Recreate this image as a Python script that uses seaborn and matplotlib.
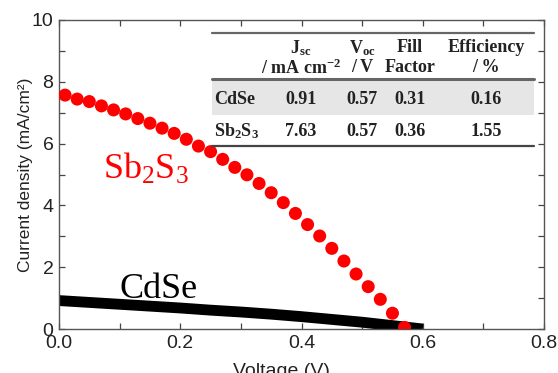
import matplotlib
matplotlib.use("Agg")
import matplotlib.pyplot as plt
import seaborn as sns
from matplotlib.lines import Line2D
from matplotlib.patches import Rectangle
from matplotlib.ticker import MultipleLocator

# ---- data ----
sb_voltage = [0.01, 0.03, 0.05, 0.07, 0.09, 0.11, 0.13, 0.15, 0.17, 0.19,
              0.21, 0.23, 0.25, 0.27, 0.29, 0.31, 0.33, 0.35, 0.37, 0.39,
              0.41, 0.43, 0.45, 0.47, 0.49, 0.51, 0.53, 0.55, 0.57]
sb_current = [7.57, 7.44, 7.36, 7.22, 7.09, 6.96, 6.81, 6.66, 6.50, 6.33,
              6.14, 5.92, 5.74, 5.49, 5.23, 4.99, 4.71, 4.41, 4.09, 3.74,
              3.38, 3.01, 2.61, 2.20, 1.78, 1.37, 0.96, 0.51, 0.05]

cdse_voltage = [0.0, 0.05, 0.10, 0.15, 0.20, 0.25, 0.30, 0.35, 0.40, 0.45, 0.50, 0.55, 0.60]
cdse_current = [0.92, 0.86, 0.80, 0.74, 0.68, 0.61, 0.55, 0.48, 0.40, 0.31, 0.22, 0.11, 0.0]

header_top = [r"J$_{\mathbf{sc}}$", r"V$_{\mathbf{oc}}$", "Fill", "Efficiency"]
header_bottom = [r"/ mA cm$^{\mathbf{-2}}$", "/ V", "Factor", "/ %"]
row_names = ["CdSe", r"Sb$_{\mathbf{2}}$S$_{\mathbf{3}}$"]
jsc_vals = ["0.91", "7.63"]
voc_vals = ["0.57", "0.57"]
ff_vals = ["0.31", "0.36"]
eff_vals = ["0.16", "1.55"]

# ---- style ----
sns.set_theme(style="ticks")
plt.rcParams["font.family"] = ["Liberation Sans", "DejaVu Sans"]
plt.rcParams["mathtext.fontset"] = "custom"
plt.rcParams["mathtext.rm"] = "Liberation Serif"
plt.rcParams["mathtext.it"] = "Liberation Serif:italic"
plt.rcParams["mathtext.bf"] = "Liberation Serif:bold"

W, H = 558, 373
fig = plt.figure(figsize=(W / 100, H / 100), dpi=100)
L, R, T, B = 59, 544, 20, 329
ax = fig.add_axes([L / W, 1 - B / H, (R - L) / W, (B - T) / H])

sns.lineplot(x=cdse_voltage, y=cdse_current, ax=ax, color="black",
             linewidth=7.8, solid_capstyle="butt", zorder=2)
sns.scatterplot(x=sb_voltage, y=sb_current, ax=ax, color="#ff0000",
                s=88, edgecolor="none", linewidth=0, zorder=3)

ax.set_xlim(0, 0.8)
ax.set_ylim(0, 10)
ax.xaxis.set_major_locator(MultipleLocator(0.2))
ax.xaxis.set_minor_locator(MultipleLocator(0.1))
ax.yaxis.set_major_locator(MultipleLocator(2))
ax.yaxis.set_minor_locator(MultipleLocator(1))
ax.tick_params(which="both", direction="in", top=True, right=True,
               length=4, width=0.9, color="#444444")
ax.tick_params(which="major", labelsize=14, labelcolor="#222222", pad=4)
for s in ax.spines.values():
    s.set_color("#555555")
    s.set_linewidth(1.0)

ax.set_xlabel("Voltage (V)", fontsize=14, color="#222222")
ax.xaxis.set_label_coords((281 - L) / (R - L), (B - 363) / (B - T))
ax.set_ylabel("Current density (mA/cm²)", fontsize=12.5, color="#222222")
ax.yaxis.set_label_coords((33 - L) / (R - L), 0.5)

ax.text(0.10, 1.0, "CdSe", fontsize=26, family="Liberation Serif",
        color="black", va="baseline")
ax.text(0.072, 4.85, r"Sb$_2$S$_3$", fontsize=26, family="Liberation Serif",
        color="#ff0000", va="baseline")

# ---- table ----
def fx(px):
    return px / W

def fy(py):
    return 1 - py / H

fig.add_artist(Rectangle((fx(212), fy(115)), fx(534) - fx(212), fy(80) - fy(115),
                         transform=fig.transFigure, facecolor="#e6e6e6",
                         edgecolor="none", zorder=1))
for yy, lw, c in [(32.7, 1.6, "#666666"), (79, 2.2, "#666666"), (146, 1.6, "#444444")]:
    fig.add_artist(Line2D([fx(212), fx(534)], [fy(yy), fy(yy)],
                          transform=fig.transFigure, color=c, linewidth=lw, zorder=2))

col_x = [301, 362, 410, 486]
tfont = dict(family="Liberation Serif", fontweight="bold", fontsize=13,
             color="#222222", zorder=4)
for cx, t1, t2 in zip(col_x, header_top, header_bottom):
    fig.text(fx(cx), fy(48), t1, ha="center", va="center", **tfont)
    fig.text(fx(cx), fy(68), t2, ha="center", va="center", **tfont)

row_y = [99, 131]
for i, ry in enumerate(row_y):
    fig.text(fx(214), fy(ry), row_names[i], ha="left", va="center", **tfont)
    for cx, vals in zip(col_x, [jsc_vals, voc_vals, ff_vals, eff_vals]):
        fig.text(fx(cx), fy(ry), vals[i], ha="center", va="center", **tfont)

fig.savefig("out.png", dpi=100)
